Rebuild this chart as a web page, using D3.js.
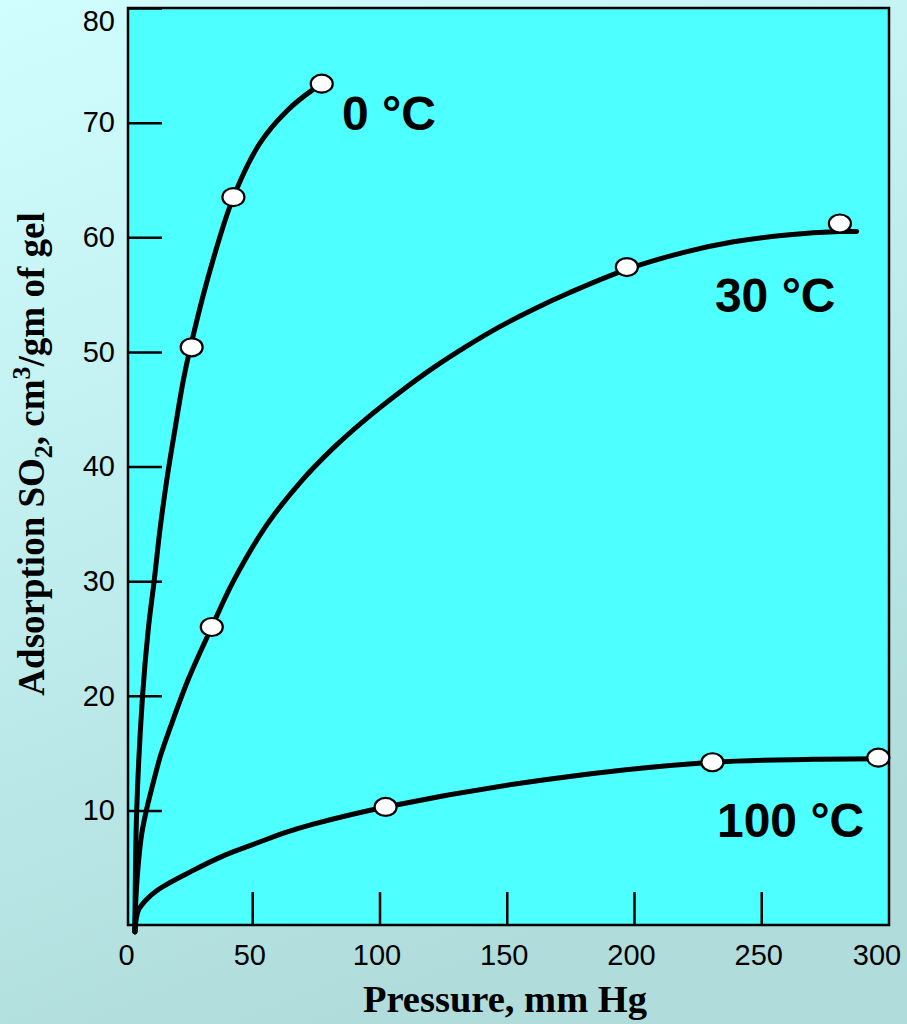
<!DOCTYPE html>
<html>
<head>
<meta charset="utf-8">
<script src="https://cdn.jsdelivr.net/npm/d3@7"></script>
<style>
  html, body { margin: 0; padding: 0; }
  body { width: 907px; height: 1024px; overflow: hidden; }
</style>
</head>
<body>
<script>
"use strict";
// values (pressure in mm Hg, adsorption in cm3/gm)
const xTicks = [0, 50, 100, 150, 200, 250, 300];
const yTicks = [10, 20, 30, 40, 50, 60, 70, 80];

const curveNames = ["0 °C", "30 °C", "100 °C"];

const line0 = [[3.9, -0.6], [4.6, 10], [6.9, 20], [9.1, 25.7], [11.5, 30.1], [13.75, 34.5],
    [16.4, 38.8], [19.6, 43.2], [22.9, 47.5], [25.7, 50.4], [33.4, 57.1], [42.6, 63.5],
    [53, 68.2], [63.5, 71.0], [74, 72.9], [77, 73.3]];
const line30 = [[3.9, -0.6], [4.3, 2.4], [5.3, 5.5], [6.6, 8], [8.6, 10.2], [10.5, 11.9],
    [14, 14.8], [17.9, 17.3], [25, 21.5], [34.1, 26.0], [42.6, 30.0], [55.7, 34.9], [68.8, 38.6],
    [81.8, 41.6], [95, 44.2], [108.1, 46.5], [121.1, 48.6], [134.3, 50.5], [147.3, 52.2],
    [160.4, 53.7], [175, 55.2], [197.2, 57.2], [220, 58.7], [239.1, 59.6], [260, 60.2],
    [281, 60.5], [287.5, 60.5]];
const line100 = [[3.9, -0.6], [4.4, 0.5], [5.4, 1.35], [7.9, 2.1], [13.1, 3.1], [26.2, 4.7],
    [39.3, 6.1], [52.4, 7.2], [63.5, 8.1], [74, 8.8], [102.4, 10.3], [165.7, 12.7],
    [230.8, 14.2], [270.5, 14.45], [296, 14.5]];

const points0 = [[26.2, 50.4], [42.6, 63.5], [77.3, 73.4]];
const points30 = [[34.1, 26.0], [197.2, 57.4], [280.9, 61.2]];
const points100 = [[102.4, 10.3], [230.8, 14.2], [296, 14.6]];

// label anchor (pressure, adsorption) for each curve
const labelAt = [[85.3, 69.36], [231.8, 53.5], [232.6, 7.68]];

(function(){
    const measurements = {
        width: 907,
        height: 1024,
        left: 128,
        right: 889,
        top: 8,
        bottom: 925
    }

    const svg = d3.select("body").append("svg")
        .attr("width", measurements.width)
        .attr("height", measurements.height)

    // background gradient
    const defs = svg.append("defs")
    const grad = defs.append("linearGradient")
        .attr("id", "bg")
        .attr("x1", "0").attr("y1", "0")
        .attr("x2", "0.35").attr("y2", "1")
    grad.append("stop").attr("offset", "0").attr("stop-color", "#d0fefe")
    grad.append("stop").attr("offset", "1").attr("stop-color", "#b0dcdc")

    svg.append("rect")
        .attr("width", measurements.width)
        .attr("height", measurements.height)
        .attr("fill", "url(#bg)")

    svg.append("rect")
        .attr("x", measurements.left)
        .attr("y", measurements.top)
        .attr("width", measurements.right - measurements.left)
        .attr("height", measurements.bottom - measurements.top)
        .attr("fill", "#4dffff")

    let scaleX = d3.scaleLinear()
        .domain([0, 300])
        .range([125, 888.5])
    let scaleY = d3.scaleLinear()
        .domain([0, 80])
        .range([measurements.bottom, measurements.top])

    drawAxes(scaleX, scaleY)

    // frame on top of the tick marks
    svg.append("rect")
        .attr("x", measurements.left)
        .attr("y", measurements.top)
        .attr("width", measurements.right - measurements.left)
        .attr("height", measurements.bottom - measurements.top)
        .attr("fill", "none")
        .attr("stroke", "#000")
        .attr("stroke-width", 2.5)

    plotCurves(scaleX, scaleY)
    axisLabels()

    function drawAxes(scaleX, scaleY) {
        let xAxis = d3.axisBottom(scaleX)
            .tickValues(xTicks)
            .tickFormat(d3.format("d"))
            .tickSize(-33)
            .tickPadding(19)
        let yAxis = d3.axisLeft(scaleY)
            .tickValues(yTicks)
            .tickFormat(d3.format("d"))
            .tickSize(-34)
            .tickPadding(13)

        let gx = svg.append("g")
            .attr("transform", "translate(0," + measurements.bottom + ")")
            .call(xAxis)
        let gy = svg.append("g")
            .attr("transform", "translate(" + measurements.left + ",0)")
            .call(yAxis)

        for (const g of [gx, gy]) {
            g.select(".domain").remove()
            g.selectAll(".tick line").attr("stroke", "#000").attr("stroke-width", 2.5)
            g.selectAll(".tick text")
                .attr("fill", "#000")
                .attr("font-family", "'Liberation Sans', Arial, sans-serif")
                .attr("font-size", 29)
        }
        // end ticks sit on the frame
        gx.selectAll(".tick").filter(d => d === 0 || d === 300).select("line").remove()
        gx.selectAll(".tick text").attr("x", d => d === 300 ? -12 : (d === 0 ? 1 : -3))
        gy.selectAll(".tick").filter(d => d === 80).select("text").attr("y", 13)
    }

    function plotCurves(scaleX, scaleY) {
        const line = d3.line()
            .x(d => scaleX(d[0]))
            .y(d => scaleY(d[1]))
            .curve(d3.curveCatmullRom.alpha(0.5))

        const lines = [line0, line30, line100]
        const points = [points0, points30, points100]

        svg.selectAll(".curve")
            .data(lines)
            .enter()
            .append("path")
                .attr("class", "curve")
                .attr("d", line)
                .attr("fill", "none")
                .attr("stroke", "#000")
                .attr("stroke-width", 5)
                .attr("stroke-linecap", "round")
                .attr("stroke-linejoin", "round")

        svg.selectAll(".dot")
            .data(points.flat())
            .enter()
            .append("ellipse")
                .attr("class", "dot")
                .attr("cx", d => scaleX(d[0]))
                .attr("cy", d => scaleY(d[1]))
                .attr("rx", 11)
                .attr("ry", 9)
                .attr("fill", "#fff")
                .attr("stroke", "#000")
                .attr("stroke-width", 2.2)

        svg.selectAll(".curve-label")
            .data(curveNames)
            .enter()
            .append("text")
                .attr("class", "curve-label")
                .attr("x", (d, i) => scaleX(labelAt[i][0]))
                .attr("y", (d, i) => scaleY(labelAt[i][1]))
                .attr("font-family", "'Liberation Sans', Arial, sans-serif")
                .attr("font-weight", "bold")
                .attr("font-size", 48)
                .attr("fill", "#000")
                .text(d => d)
    }

    function axisLabels() {
        svg.append("text")
            .attr("x", 505)
            .attr("y", 1012)
            .attr("text-anchor", "middle")
            .attr("font-family", "'Liberation Serif', 'Times New Roman', serif")
            .attr("font-weight", "bold")
            .attr("font-size", 38.5)
            .text("Pressure, mm Hg")

        let yTitle = svg.append("text")
            .attr("transform", "translate(44,454) rotate(-90)")
            .attr("text-anchor", "middle")
            .attr("font-family", "'Liberation Serif', 'Times New Roman', serif")
            .attr("font-weight", "bold")
            .attr("font-size", 37)
        yTitle.append("tspan").text("Adsorption SO")
        yTitle.append("tspan").attr("font-size", 26).attr("dy", 8).text("2")
        yTitle.append("tspan").attr("dy", -8).text(", cm")
        yTitle.append("tspan").attr("font-size", 26).attr("dy", -14).text("3")
        yTitle.append("tspan").attr("dy", 14).text("/gm of gel")
    }
})()
</script>
</body>
</html>
